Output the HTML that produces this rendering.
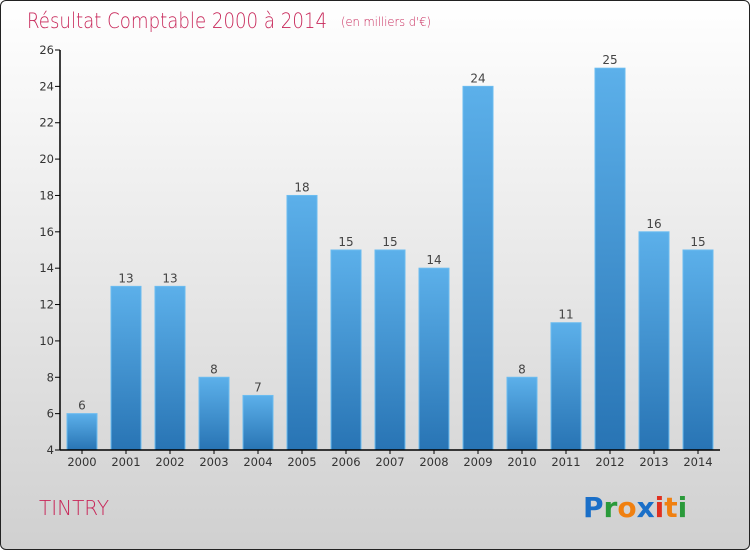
<!DOCTYPE html>
<html><head><meta charset="utf-8"><style>
body{margin:0}
#c{position:relative;width:748px;height:548px;border:1px solid #222;border-radius:6px;overflow:hidden;background:linear-gradient(#ffffff,#d0d0d0);font-family:"DejaVu Sans","Liberation Sans",sans-serif}
</style></head><body>
<div id="c">
<svg width="748" height="548">
<defs><linearGradient id="bg" x1="0" y1="0" x2="0" y2="1"><stop offset="0" stop-color="#5cb0ea"/><stop offset="1" stop-color="#2874b4"/></linearGradient></defs>
<text x="26" y="27" font-size="21" fill="#c8285a" font-weight="200" textLength="300" lengthAdjust="spacingAndGlyphs">Résultat Comptable 2000 à 2014</text>
<text x="340" y="25" font-size="12" fill="#c8285a" font-weight="200" textLength="90" lengthAdjust="spacingAndGlyphs">(en milliers d'€)</text>
<g id="plot"></g>
<text x="38" y="514" font-size="20" fill="#c8285a" font-weight="200">TINTRY</text>
<g font-size="28" font-family="DejaVu Sans" font-weight="bold">
<text x="582" y="516"><tspan fill="#1a6fc8">P</tspan><tspan fill="#2a9a3a">r</tspan><tspan fill="#f08010">o</tspan><tspan fill="#1a6fc8">x</tspan><tspan fill="#e03020">i</tspan><tspan fill="#f08010">t</tspan><tspan fill="#2a9a3a">i</tspan></text>
</g>
</svg></div>
<script>
const years=["2000","2001","2002","2003","2004","2005","2006","2007","2008","2009","2010","2011","2012","2013","2014"];
const values=[6,13,13,8,7,18,15,15,14,24,8,11,25,16,15];
const yTicks=[4,6,8,10,12,14,16,18,20,22,24,26];
const NS="http://www.w3.org/2000/svg";
const plotG=document.getElementById('plot');
const X0=59,BAND=44,Y_MIN=4,Y_MAX=26,PLOT_TOP=49,PLOT_BOT=449;
function yScale(v){return PLOT_BOT-(v-Y_MIN)/(Y_MAX-Y_MIN)*(PLOT_BOT-PLOT_TOP);}
function mk(t,a,txt){const e=document.createElementNS(NS,t);for(const k in a)e.setAttribute(k,a[k]);if(txt!=null)e.textContent=txt;plotG.appendChild(e);return e;}
values.forEach((v,i)=>{
 const cx=X0+BAND*i+BAND/2;
 const r=mk('rect',{x:cx-15,y:yScale(v),width:30,height:PLOT_BOT-yScale(v),fill:'url(#bg)',stroke:'#6bbcf0','stroke-width':1});
 
 
 const t=mk('text',{x:cx,y:yScale(v)-4,'text-anchor':'middle','font-size':12,fill:'#444'},String(v));
 
 
 const xl=mk('text',{x:cx,y:PLOT_BOT+16,'text-anchor':'middle','font-size':11.5,fill:'#333'},years[i]);
 
 
 mk('line',{x1:cx,x2:cx,y1:PLOT_BOT,y2:PLOT_BOT+4,stroke:'#000'});
});
yTicks.forEach(v=>{
 mk('line',{x1:X0-5,x2:X0,y1:yScale(v),y2:yScale(v),stroke:'#000'});
 const t=mk('text',{x:X0-6,y:yScale(v)+4,'text-anchor':'end','font-size':11.5,fill:'#333'},String(v));
 
 
});
const ya=mk('line',{x1:X0,x2:X0,y1:PLOT_TOP,y2:PLOT_BOT,stroke:'#000','stroke-width':1.5});


const xa=mk('line',{x1:X0,x2:X0+BAND*years.length,y1:PLOT_BOT,y2:PLOT_BOT,stroke:'#000','stroke-width':1.5});


</script>
</body></html>
